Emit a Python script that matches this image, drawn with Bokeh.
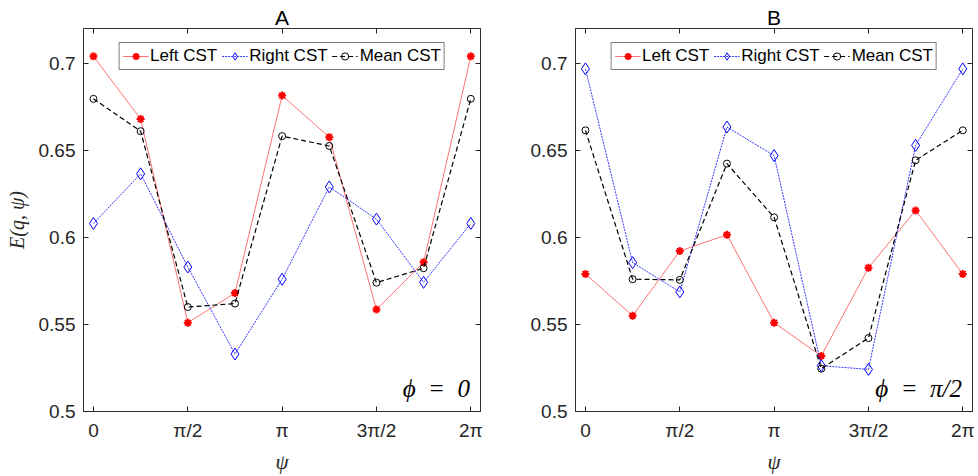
import numpy as np
from bokeh.plotting import figure
from bokeh.layouts import row
from bokeh.models import Range1d, FixedTicker, LinearAxis, Label, Legend
from bokeh.embed import file_html
from bokeh.resources import INLINE

# ---- data ----
psi = [0, np.pi / 4, np.pi / 2, 3 * np.pi / 4, np.pi, 5 * np.pi / 4, 3 * np.pi / 2, 7 * np.pi / 4, 2 * np.pi]

A_left = [0.704, 0.668, 0.551, 0.568, 0.6815, 0.6576, 0.5586, 0.5857, 0.704]
A_right = [0.608, 0.6365, 0.583, 0.533, 0.576, 0.629, 0.6105, 0.5742, 0.608]
A_mean = [0.6796, 0.661, 0.560, 0.562, 0.6582, 0.6525, 0.574, 0.5823, 0.6796]

B_left = [0.579, 0.555, 0.5922, 0.6015, 0.551, 0.5319, 0.5826, 0.6155, 0.579]
B_right = [0.6968, 0.5855, 0.5687, 0.6634, 0.647, 0.5263, 0.5242, 0.6529, 0.6968]
B_mean = [0.6615, 0.576, 0.5756, 0.6424, 0.6115, 0.5246, 0.5422, 0.6443, 0.6615]

x_ticks = [0, np.pi / 2, np.pi, 3 * np.pi / 2, 2 * np.pi]
x_tick_labels = ["0", "π/2", "π", "3π/2", "2π"]
y_ticks = [0.5, 0.55, 0.6, 0.65, 0.7]
y_tick_labels = ["0.5", "0.55", "0.6", "0.65", "0.7"]

series_names = ["Left CST", "Right CST", "Mean CST"]
titles = ["A", "B"]
phi_labels = ["ϕ\u2002=\u20020", "ϕ\u2002=\u2002π/2"]

AX = "#262626"
FONT = "Liberation Sans"
SERIF = "Liberation Serif"


def style_axis(ax, show_labels):
    ax.axis_line_color = AX
    ax.axis_line_width = 0.8
    ax.major_tick_line_color = AX
    ax.major_tick_in = 5
    ax.major_tick_out = 0
    ax.minor_tick_line_color = None
    if show_labels:
        ax.major_label_text_font = FONT
        ax.major_label_text_font_size = "19px"
        ax.major_label_text_color = AX
        ax.major_label_standoff = 8
    else:
        ax.major_label_text_font_size = "0px"
        ax.major_label_standoff = 0


def make_panel(title, left, right, mean, phi_text, ylabel, width, border_left, border_right):
    p = figure(width=width, height=476, output_backend="svg", toolbar_location=None,
               x_range=Range1d(-0.166, 6.445), y_range=Range1d(0.5, 0.72),
               min_border_left=border_left, min_border_right=border_right,
               min_border_top=28, min_border_bottom=63)
    p.title.text = title
    p.title.align = "center"
    p.title.text_font = FONT
    p.title.text_font_size = "21px"
    p.title.text_font_style = "normal"
    p.title.text_color = "#000000"
    p.title.standoff = 0
    p.xgrid.visible = False
    p.ygrid.visible = False
    p.outline_line_color = AX
    p.outline_line_width = 0.8
    p.background_fill_color = "white"
    p.border_fill_color = "white"

    xt = FixedTicker(ticks=x_ticks)
    yt = FixedTicker(ticks=y_ticks)
    xo = {t: l for t, l in zip(x_ticks, x_tick_labels)}
    yo = {t: l for t, l in zip(y_ticks, y_tick_labels)}

    p.xaxis.ticker = xt
    p.xaxis.major_label_overrides = xo
    p.yaxis.ticker = yt
    p.yaxis.major_label_overrides = yo
    style_axis(p.xaxis[0], True)
    style_axis(p.yaxis[0], True)

    p.xaxis.axis_label = "ψ"
    p.xaxis.axis_label_text_font = SERIF
    p.xaxis.axis_label_text_font_style = "italic"
    p.xaxis.axis_label_text_font_size = "21px"
    p.xaxis.axis_label_text_color = AX
    p.xaxis.axis_label_standoff = 6
    if ylabel:
        p.yaxis.axis_label = ylabel
        p.yaxis.axis_label_text_font = SERIF
        p.yaxis.axis_label_text_font_style = "italic"
        p.yaxis.axis_label_text_font_size = "20px"
        p.yaxis.axis_label_text_color = AX
        p.yaxis.axis_label_standoff = 8

    top = LinearAxis(ticker=FixedTicker(ticks=x_ticks))
    top.major_label_overrides = {t: "" for t in x_ticks}
    style_axis(top, False)
    p.add_layout(top, "above")
    rgt = LinearAxis(ticker=FixedTicker(ticks=y_ticks))
    rgt.major_label_overrides = {t: "" for t in y_ticks}
    style_axis(rgt, False)
    p.add_layout(rgt, "right")

    r1 = p.line(psi, left, line_color="#FF0000", line_width=0.7, line_alpha=0.8)
    m1 = p.scatter(psi, left, marker="asterisk", size=8, line_color="#FF0000", line_width=2)
    r2 = p.line(psi, right, line_color="#0000FF", line_width=0.8, line_dash="2 1")
    m2 = p.scatter(psi, right, marker="diamond", size=12, line_color="#0000FF",
                   fill_color=None, line_width=1)
    r3 = p.line(psi, mean, line_color="#000000", line_width=1.2, line_dash="5 3")
    m3 = p.scatter(psi, mean, marker="circle", size=7, line_color="#000000",
                   fill_color=None, line_width=1)

    legend = Legend(items=[(series_names[0], [r1, m1]),
                           (series_names[1], [r2, m2]),
                           (series_names[2], [r3, m3])],
                    location="top_center", orientation="horizontal")
    legend.label_text_font = FONT
    legend.label_text_font_size = "17px"
    legend.label_text_color = "#000000"
    legend.label_standoff = 2
    legend.glyph_width = 26
    legend.glyph_height = 18
    legend.label_height = 18
    legend.spacing = 4
    legend.padding = 3
    legend.margin = 14
    legend.border_line_color = "#000000"
    legend.border_line_width = 0.8
    legend.background_fill_alpha = 1
    p.add_layout(legend, "center")

    lab = Label(x=6.27, y=0.5055, text=phi_text, text_align="right", text_baseline="bottom",
                text_font=SERIF, text_font_style="italic", text_font_size="25px",
                text_color="#000000")
    p.add_layout(lab)
    return p


p1 = make_panel(titles[0], A_left, A_right, A_mean, phi_labels[0], "E(q, ψ)", 488, 83, 8)
p2 = make_panel(titles[1], B_left, B_right, B_mean, phi_labels[1], None, 490, 87, 6)

layout = row(p1, p2)
open("out.html", "w").write(file_html(layout, INLINE))
